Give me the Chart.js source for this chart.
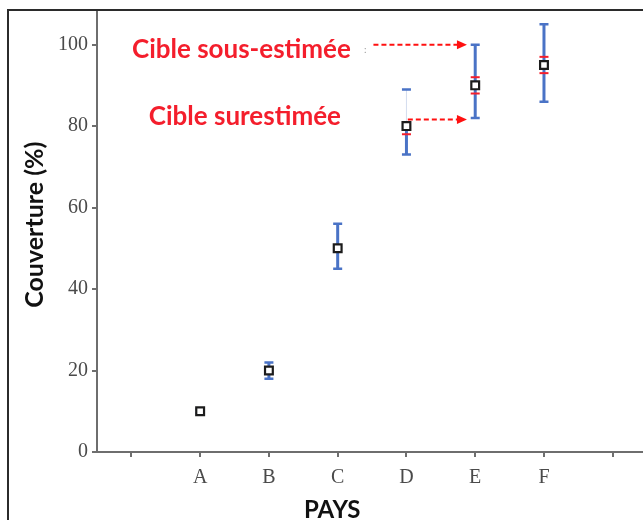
<!DOCTYPE html>
<html lang="fr">
<head>
<meta charset="utf-8">
<title>Couverture par pays</title>
<script src="https://cdn.jsdelivr.net/npm/chart.js@4.4.1/dist/chart.umd.min.js"></script>
<style>
  html, body { margin: 0; padding: 0; background: #fff; overflow: hidden; }
  #wrap { position: relative; width: 643px; height: 520px; overflow: hidden; }
  #graphique { display: block; }
  #cadre { position: absolute; left: 7px; top: 9px; right: -5px; bottom: -5px;
           border-left: 2px solid #2b2b2b; border-top: 2px solid #2b2b2b; pointer-events: none; }
</style>
</head>
<body>
<div id="wrap">
  <canvas id="graphique" width="643" height="520"></canvas>
  <div id="cadre"></div>
</div>
<script>
// Données
const pays = ["A", "B", "C", "D", "E", "F"];
const couverture = [10, 20, 50, 80, 90, 95];
const erreurBas = [9.5, 18, 45, 73, 82, 86];
const erreurHaut = [10.5, 22, 56, 89, 100, 105];
const cibleBas = [null, null, null, 78, 88, 93];
const cibleHaut = [null, null, null, null, 92, 97];
const graduationsY = [0, 20, 40, 60, 80, 100];
const graduationsX = [0, 1, 2, 3, 4, 5, 6, 7];

const BLEU = "#4a73c6";
const ROUGE = "#f41e2c";

// Annotations (en unités des axes)
const textes = [
    { texte: "Cible sous-estimée", x: 1.6, y: 98.7 },
    { texte: "Cible surestimée", x: 1.65, y: 82.3 }
];
const fleches = [
    { x1: 3.52, x2: 4.88, y: 100 },
    { x1: 4.02, x2: 4.88, y: 81.6 }
];

const barresErreur = {
    id: "barresErreur",
    beforeDatasetsDraw(chart) {
        const { ctx, scales: { x, y } } = chart;
        ctx.save();
        pays.forEach((p, i) => {
            const px = x.getPixelForValue(i + 1);
            const yHaut = y.getPixelForValue(erreurHaut[i]);
            const yBas = y.getPixelForValue(erreurBas[i]);
            const yVal = y.getPixelForValue(couverture[i]);
            const partiel = cibleBas[i] !== null && cibleHaut[i] === null;

            ctx.strokeStyle = BLEU;
            ctx.lineWidth = 3;
            ctx.beginPath();
            ctx.moveTo(px, partiel ? yVal : yHaut);
            ctx.lineTo(px, yBas);
            ctx.stroke();
            if (partiel) {
                ctx.strokeStyle = "#d3dcef";
                ctx.lineWidth = 1;
                ctx.beginPath();
                ctx.moveTo(px, yHaut);
                ctx.lineTo(px, yVal);
                ctx.stroke();
            }
            // chapeaux
            ctx.strokeStyle = BLEU;
            ctx.lineWidth = 2.5;
            ctx.beginPath();
            ctx.moveTo(px - 4.5, yHaut);
            ctx.lineTo(px + 4.5, yHaut);
            ctx.moveTo(px - 4.5, yBas);
            ctx.lineTo(px + 4.5, yBas);
            ctx.stroke();
            // cibles
            ctx.strokeStyle = ROUGE;
            ctx.lineWidth = 2;
            [cibleBas[i], cibleHaut[i]].forEach((v) => {
                if (v === null) return;
                const py = y.getPixelForValue(v);
                ctx.beginPath();
                ctx.moveTo(px - 4.5, py);
                ctx.lineTo(px + 4.5, py);
                ctx.stroke();
            });
        });
        ctx.restore();
    }
};

const annotations = {
    id: "annotations",
    afterDatasetsDraw(chart) {
        const { ctx, scales: { x, y } } = chart;
        ctx.save();
        ctx.fillStyle = ROUGE;
        ctx.font = "bold 26px Lato";
        ctx.textAlign = "center";
        ctx.textBaseline = "middle";
        textes.forEach((t) => {
            ctx.fillText(t.texte, x.getPixelForValue(t.x), y.getPixelForValue(t.y));
        });
        ctx.fillStyle = "#9a9a9a";
        ctx.font = "10px Lato";
        ctx.fillText(":", x.getPixelForValue(3.4), y.getPixelForValue(98.7));

        // titres des axes
        ctx.fillStyle = "#111";
        ctx.font = "bold 24px Lato";
        ctx.fillText("PAYS", x.getPixelForValue(2.92), 510);
        ctx.save();
        ctx.translate(35, y.getPixelForValue(55.8));
        ctx.rotate(-Math.PI / 2);
        ctx.font = "bold 25px Lato";
        ctx.fillText("Couverture (%)", 0, 0);
        ctx.restore();

        ctx.strokeStyle = "#ff1010";
        ctx.fillStyle = "#ff1010";
        ctx.lineWidth = 2;
        fleches.forEach((f) => {
            const x1 = x.getPixelForValue(f.x1);
            const x2 = x.getPixelForValue(f.x2);
            const py = y.getPixelForValue(f.y);
            ctx.setLineDash([5, 3]);
            ctx.beginPath();
            ctx.moveTo(x1, py);
            ctx.lineTo(x2 - 8, py);
            ctx.stroke();
            ctx.setLineDash([]);
            ctx.beginPath();
            ctx.moveTo(x2, py);
            ctx.lineTo(x2 - 10, py - 4.5);
            ctx.lineTo(x2 - 10, py + 4.5);
            ctx.closePath();
            ctx.fill();
        });
        ctx.restore();
    }
};

const ctx = document.getElementById("graphique").getContext("2d");
new Chart(ctx, {
    type: "scatter",
    data: {
        datasets: [
            {
                label: "Couverture",
                data: pays.map((p, i) => ({ x: i + 1, y: couverture[i] })),
                pointStyle: "rect",
                pointRadius: 5.5,
                pointBorderWidth: 2.2,
                borderColor: "#1c1c1c",
                backgroundColor: "#ffffff",
                showLine: false
            }
        ]
    },
    options: {
        responsive: false,
        animation: false,
        events: [],
        layout: { autoPadding: false, padding: { top: 10, left: 0, right: 0, bottom: 0 } },
        plugins: {
            legend: { display: false },
            tooltip: { enabled: false }
        },
        scales: {
            x: {
                type: "linear",
                min: -0.5,
                max: 7.44,
                afterBuildTicks: (axis) => {
                    axis.ticks = graduationsX.map((v) => ({ value: v }));
                },
                afterFit: (axis) => {
                    axis.height = 68;
                    axis.paddingLeft = 0;
                    axis.paddingRight = 0;
                },
                border: { color: "#6e6e6e", width: 2 },
                grid: { drawOnChartArea: false, drawTicks: true, tickLength: 5, color: "#6e6e6e", lineWidth: 2 },
                ticks: {
                    autoSkip: false,
                    maxRotation: 0,
                    padding: 9,
                    color: "#4a4a4a",
                    font: { family: "'Liberation Serif'", size: 20 },
                    callback: (v) => pays[v - 1] || ""
                }
            },
            y: {
                min: 0,
                max: 108.5,
                afterBuildTicks: (axis) => {
                    axis.ticks = graduationsY.map((v) => ({ value: v }));
                },
                afterFit: (axis) => {
                    axis.width = 97;
                    axis.paddingTop = 0;
                    axis.paddingBottom = 0;
                },
                border: { color: "#6e6e6e", width: 2 },
                grid: { drawOnChartArea: false, drawTicks: true, tickLength: 5, color: "#6e6e6e", lineWidth: 2 },
                ticks: {
                    padding: 4,
                    color: "#4a4a4a",
                    font: { family: "'Liberation Serif'", size: 20 }
                }
            }
        }
    },
    plugins: [barresErreur, annotations]
});
</script>
</body>
</html>
